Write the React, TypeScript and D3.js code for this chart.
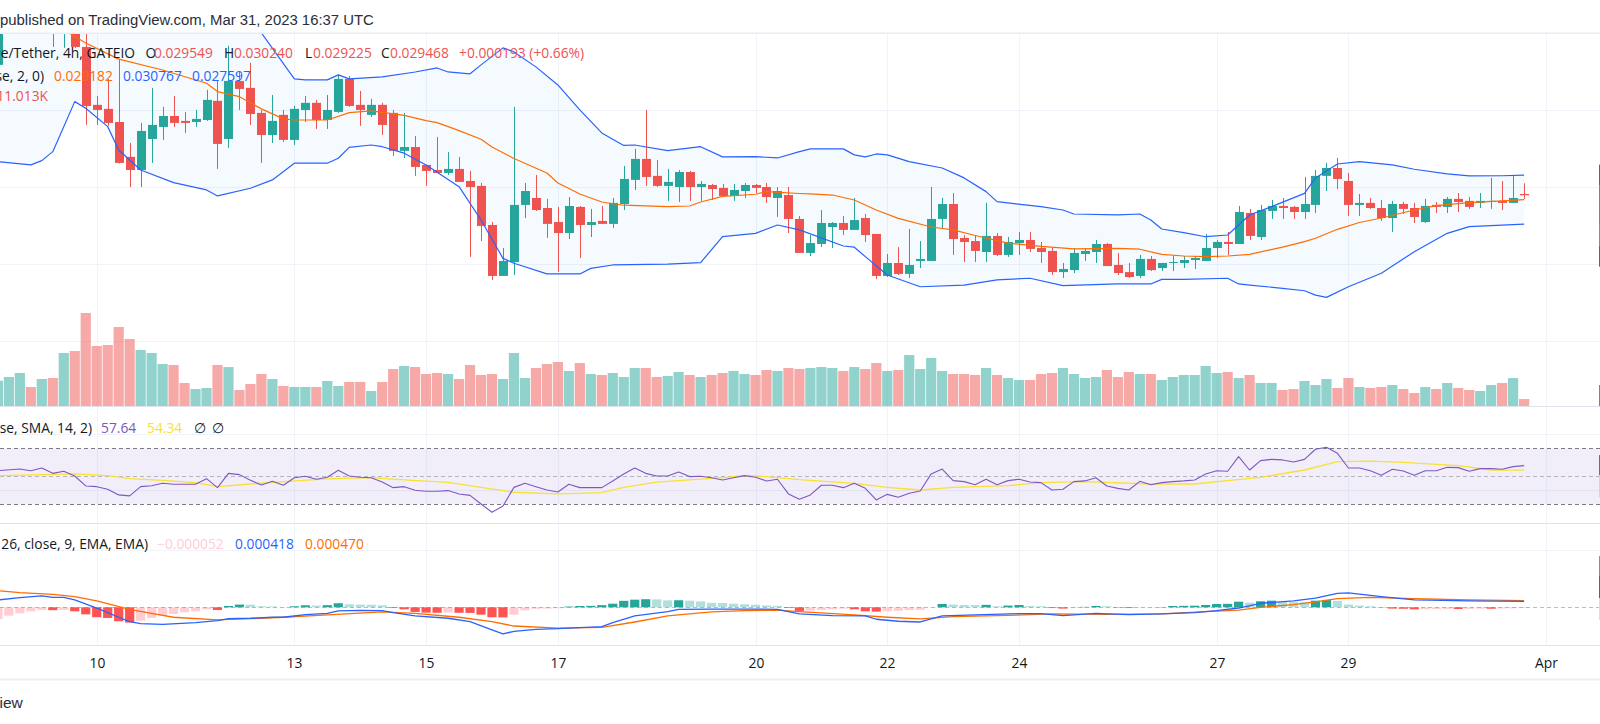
import { useEffect, useRef } from "react";
import * as d3 from "d3";

// 4h candles, first one Mar 8 2023 12:00 UTC
const START = Date.UTC(2023, 2, 8, 12);
const STEP = 4 * 3600 * 1000;

const open = [
  0.03791, 0.04082, 0.0416, 0.04212, 0.04134, 0.0418, 0.04031, 0.04082, 0.03907, 0.03532,
  0.03506, 0.03421, 0.03195, 0.0311, 0.03311, 0.03389, 0.0346, 0.03428, 0.03421, 0.03434,
  0.03558, 0.03311, 0.03687, 0.03642, 0.0348, 0.03337, 0.03467, 0.03305, 0.03499, 0.03545,
  0.03434, 0.03486, 0.037, 0.03532, 0.03467, 0.03532, 0.0348, 0.03234, 0.03259, 0.03143,
  0.0311, 0.03091, 0.03117, 0.03039, 0.03007, 0.02754, 0.02424, 0.02514, 0.02884, 0.02929,
  0.02864, 0.02773, 0.02702, 0.02871, 0.02754, 0.0278, 0.02761, 0.0289, 0.03046, 0.03182,
  0.03072, 0.03007, 0.03, 0.03097, 0.03, 0.03013, 0.02994, 0.02942, 0.02974, 0.03013,
  0.03, 0.02929, 0.02948, 0.02793, 0.02573, 0.02631, 0.02741, 0.02767, 0.02722, 0.02799,
  0.02696, 0.02424, 0.02508, 0.02437, 0.02521, 0.02521, 0.02793, 0.0289, 0.0267, 0.0265,
  0.02579, 0.02683, 0.0256, 0.02637, 0.02657, 0.02605, 0.02586, 0.02449, 0.02462, 0.02566,
  0.02579, 0.02631, 0.02495, 0.02449, 0.02424, 0.02534, 0.02475, 0.02508, 0.02508, 0.02527,
  0.02521, 0.02605, 0.02644, 0.02631, 0.02832, 0.02676, 0.02845, 0.02877, 0.02871, 0.02838,
  0.02884, 0.03072, 0.03123, 0.03039, 0.02884, 0.02897, 0.02864, 0.02799, 0.0289, 0.02864,
  0.02773, 0.02884, 0.02871, 0.02923, 0.0291, 0.02897, 0.02903, 0.0291, 0.02897, 0.029549,
];
const high = [
  0.04147, 0.04199, 0.04238, 0.04251, 0.04212, 0.04212, 0.04147, 0.04134, 0.0405, 0.0359,
  0.037, 0.03823, 0.03285, 0.03415, 0.03642, 0.03519, 0.0359, 0.03486, 0.03499, 0.03629,
  0.03687, 0.03914, 0.03745, 0.03804, 0.03499, 0.03596, 0.03499, 0.03525, 0.0359, 0.03564,
  0.03596, 0.03726, 0.0372, 0.03622, 0.03571, 0.03545, 0.03499, 0.0348, 0.03331, 0.03143,
  0.03324, 0.03227, 0.03195, 0.03104, 0.03026, 0.02773, 0.02605, 0.03519, 0.03026, 0.03078,
  0.02923, 0.02871, 0.02935, 0.02877, 0.02858, 0.02877, 0.02929, 0.03136, 0.03247, 0.03499,
  0.03175, 0.03117, 0.0311, 0.03104, 0.03039, 0.0302, 0.0302, 0.0302, 0.03026, 0.0302,
  0.03026, 0.03, 0.03, 0.02812, 0.02689, 0.02851, 0.02773, 0.02812, 0.02929, 0.02825,
  0.02696, 0.02566, 0.02611, 0.02728, 0.0265, 0.03, 0.02929, 0.02961, 0.02689, 0.02689,
  0.02897, 0.02702, 0.02676, 0.02709, 0.02709, 0.02644, 0.02605, 0.02508, 0.02605, 0.02605,
  0.02657, 0.02637, 0.02573, 0.02508, 0.0256, 0.02553, 0.02508, 0.02553, 0.02553, 0.02553,
  0.02696, 0.02657, 0.02709, 0.02877, 0.02858, 0.02884, 0.02916, 0.02929, 0.02877, 0.03065,
  0.0311, 0.03156, 0.03188, 0.03091, 0.02955, 0.02929, 0.02916, 0.0291, 0.02903, 0.02897,
  0.02923, 0.02903, 0.02935, 0.02961, 0.02935, 0.02961, 0.03059, 0.03039, 0.03078, 0.03024,
];
const low = [
  0.03758, 0.0405, 0.04121, 0.04095, 0.04082, 0.03907, 0.03901, 0.03901, 0.03402, 0.03402,
  0.03396, 0.03152, 0.03, 0.03, 0.03156, 0.03305, 0.03389, 0.0335, 0.03389, 0.03428,
  0.03117, 0.03253, 0.03499, 0.03402, 0.03156, 0.03285, 0.03292, 0.03272, 0.03421, 0.03376,
  0.03376, 0.0348, 0.03519, 0.03396, 0.03454, 0.03337, 0.03201, 0.03188, 0.03072, 0.03007,
  0.03091, 0.03078, 0.03033, 0.02547, 0.0265, 0.02398, 0.02424, 0.0243, 0.02799, 0.02845,
  0.0267, 0.02449, 0.02663, 0.0254, 0.02676, 0.02761, 0.02735, 0.02851, 0.02981, 0.03007,
  0.03, 0.0291, 0.02903, 0.0291, 0.0291, 0.02916, 0.02935, 0.0291, 0.02929, 0.02961,
  0.02897, 0.02806, 0.02702, 0.02573, 0.02553, 0.02611, 0.02605, 0.02689, 0.02722, 0.02644,
  0.02404, 0.02417, 0.0243, 0.02411, 0.02475, 0.02521, 0.02728, 0.0256, 0.02514, 0.02514,
  0.02514, 0.02553, 0.02547, 0.0256, 0.02579, 0.02508, 0.0243, 0.02411, 0.02443, 0.02521,
  0.02508, 0.02488, 0.0243, 0.02411, 0.02411, 0.02456, 0.02456, 0.02456, 0.02475, 0.02469,
  0.02521, 0.0254, 0.0256, 0.02631, 0.02657, 0.02657, 0.02793, 0.02793, 0.02793, 0.02793,
  0.02832, 0.02974, 0.02987, 0.02812, 0.02812, 0.02858, 0.0278, 0.02709, 0.02825, 0.02767,
  0.02767, 0.02832, 0.02832, 0.02838, 0.02858, 0.02864, 0.02858, 0.02851, 0.02897, 0.029225,
];
const close = [
  0.04082, 0.0416, 0.04212, 0.04134, 0.0418, 0.04031, 0.04082, 0.03907, 0.03525, 0.03499,
  0.03415, 0.03156, 0.0311, 0.03363, 0.03402, 0.0346, 0.03415, 0.03415, 0.03441, 0.03564,
  0.03279, 0.03687, 0.03635, 0.03473, 0.03337, 0.03428, 0.03305, 0.03506, 0.03545, 0.03434,
  0.03499, 0.037, 0.03525, 0.03499, 0.03532, 0.03402, 0.03234, 0.03259, 0.0313, 0.03104,
  0.03091, 0.03117, 0.03033, 0.03, 0.02748, 0.02424, 0.02521, 0.02884, 0.02974, 0.02851,
  0.02761, 0.02702, 0.02877, 0.02754, 0.02773, 0.02761, 0.02897, 0.03052, 0.03182, 0.03065,
  0.03007, 0.03033, 0.03097, 0.03, 0.0302, 0.02987, 0.02942, 0.02981, 0.03013, 0.02994,
  0.02935, 0.02974, 0.02793, 0.02573, 0.02637, 0.02767, 0.02767, 0.02722, 0.02786, 0.02689,
  0.02424, 0.02508, 0.02437, 0.02495, 0.02534, 0.02793, 0.0289, 0.02663, 0.02644, 0.02586,
  0.02683, 0.0256, 0.02644, 0.02657, 0.02599, 0.02579, 0.02449, 0.02469, 0.02573, 0.02586,
  0.02631, 0.02488, 0.02443, 0.02417, 0.02534, 0.02462, 0.02508, 0.02514, 0.02527, 0.0254,
  0.02605, 0.02644, 0.02631, 0.02838, 0.02683, 0.02851, 0.02877, 0.02864, 0.02838, 0.0289,
  0.03072, 0.03123, 0.03052, 0.02884, 0.02897, 0.02864, 0.02799, 0.0289, 0.02858, 0.02806,
  0.02877, 0.02871, 0.02923, 0.02903, 0.02871, 0.0291, 0.0291, 0.02897, 0.02929, 0.029468,
];
// volume, thousands
const volume = [
  39.8, 45.6, 51.9, 29.9, 42.5, 44.0, 83.4, 86.5, 146.3, 94.4,
  96.0, 124.3, 105.4, 88.1, 83.4, 66.1, 64.5, 36.2, 26.7, 28.3,
  64.5, 61.3, 25.2, 34.6, 50.3, 42.5, 31.5, 29.9, 29.9, 29.9,
  39.3, 31.5, 37.8, 37.8, 23.6, 37.8, 58.2, 62.9, 61.3, 50.3,
  51.9, 50.3, 42.5, 64.5, 48.8, 50.3, 42.5, 83.4, 44.0, 59.8,
  66.1, 69.2, 55.1, 67.6, 50.3, 48.8, 51.9, 45.6, 59.8, 59.8,
  45.6, 47.2, 53.5, 48.8, 45.6, 48.8, 51.9, 55.1, 50.3, 48.8,
  56.6, 55.1, 59.8, 58.2, 59.8, 61.3, 59.8, 55.1, 61.3, 58.2,
  67.6, 55.1, 56.6, 80.2, 58.2, 75.5, 55.1, 50.3, 50.3, 48.8,
  59.8, 48.8, 44.0, 40.9, 40.9, 50.3, 51.9, 59.8, 50.3, 44.0,
  45.6, 56.6, 45.6, 53.5, 50.3, 50.3, 40.9, 45.6, 48.8, 48.8,
  62.9, 51.9, 53.5, 44.0, 48.8, 36.2, 36.2, 25.2, 26.7, 39.3,
  33.0, 42.5, 28.3, 44.0, 29.9, 28.3, 29.9, 33.0, 26.7, 20.4,
  29.9, 26.7, 36.2, 28.3, 25.2, 23.6, 33.0, 36.2, 44.0, 11.013,
];

// Bollinger bands [candle index, price]
const bbUpper = [
  [0, 0.05314], [4, 0.05184], [8, 0.04795], [12, 0.04471], [16, 0.04277], [20, 0.04147], [22, 0.04069],
  [24, 0.03998], [27, 0.037], [28, 0.03694], [30, 0.03694], [31, 0.03726], [32, 0.037], [35, 0.03713],
  [38, 0.03745], [40, 0.03771], [41, 0.03745], [43, 0.03733], [44, 0.03791], [46, 0.03901], [47, 0.03875],
  [49, 0.03778], [51, 0.03661], [53, 0.03499], [55, 0.0335], [57, 0.03269], [58, 0.03272], [61, 0.03235],
  [64, 0.03261], [66, 0.03195], [69, 0.03197], [71, 0.03188], [73, 0.03229], [74, 0.03247], [77, 0.03247],
  [78, 0.03208], [79, 0.03195], [80, 0.03214], [81, 0.03208], [83, 0.03164], [86, 0.03123], [88, 0.03059],
  [90, 0.0297], [91, 0.02905], [92, 0.02897], [95, 0.02873], [97, 0.02851], [98, 0.02825], [102, 0.02819],
  [104, 0.02825], [105, 0.02786], [106, 0.02728], [108, 0.02704], [110, 0.02678], [112, 0.02689],
  [114, 0.02819], [116, 0.02873], [119, 0.02959], [120, 0.03059], [122, 0.03149], [124, 0.03164],
  [127, 0.03143], [129, 0.03115], [132, 0.03085], [134, 0.03072], [137, 0.03073], [139, 0.030767],
];
const bbBasis = [
  [0, 0.04244], [3, 0.0416], [5, 0.04082], [6, 0.04018], [8, 0.03933], [11, 0.03828], [15, 0.03758],
  [19, 0.03672], [20, 0.03618], [22, 0.03585], [24, 0.03506], [26, 0.03441], [27, 0.03434], [30, 0.03434],
  [32, 0.03482], [34, 0.03493], [37, 0.03464], [39, 0.0343], [40, 0.03417], [42, 0.03365], [44, 0.03309],
  [45, 0.03259], [47, 0.03185], [50, 0.03091], [51, 0.03026], [53, 0.02955], [55, 0.02903], [57, 0.02882],
  [61, 0.02873], [63, 0.02877], [64, 0.02903], [66, 0.02939], [69, 0.02953], [70, 0.0297], [73, 0.02958],
  [74, 0.02955], [76, 0.02948], [78, 0.02916], [80, 0.02851], [82, 0.02797], [85, 0.02741], [87, 0.02722],
  [89, 0.02686], [92, 0.02637], [95, 0.02615], [98, 0.02599], [102, 0.02603], [104, 0.02597], [106, 0.02564],
  [108, 0.02553], [110, 0.02549], [112, 0.02553], [114, 0.02564], [117, 0.02611], [119, 0.02646],
  [120, 0.02668], [122, 0.02726], [124, 0.0277], [126, 0.02799], [129, 0.02851], [131, 0.02879],
  [134, 0.02899], [137, 0.0291], [139, 0.029182],
];
const bbLower = [
  [0, 0.03164], [3, 0.03143], [4, 0.03171], [5, 0.03229], [7, 0.03553], [8, 0.0351], [10, 0.03391],
  [11, 0.0324], [13, 0.0311], [16, 0.03028], [19, 0.02981], [20, 0.02942], [23, 0.02992], [25, 0.03046],
  [27, 0.03154], [30, 0.03154], [31, 0.03186], [32, 0.03257], [34, 0.03272], [35, 0.03261], [37, 0.03219],
  [39, 0.03143], [42, 0.03002], [44, 0.02786], [46, 0.02538], [47, 0.02506], [50, 0.02437], [53, 0.02437],
  [54, 0.02473], [56, 0.02495], [61, 0.02501], [64, 0.0251], [66, 0.02678], [69, 0.027], [71, 0.02754],
  [73, 0.02722], [77, 0.02618], [78, 0.0261], [79, 0.02549], [81, 0.0243], [84, 0.02354], [88, 0.02365],
  [91, 0.02398], [94, 0.02409], [97, 0.02361], [102, 0.02372], [105, 0.02372], [106, 0.02402],
  [108, 0.02402], [112, 0.02409], [113, 0.02372], [114, 0.02365], [117, 0.02344], [119, 0.02328],
  [120, 0.023], [121, 0.02285], [123, 0.02354], [126, 0.02441], [129, 0.02581], [132, 0.027],
  [134, 0.02743], [139, 0.027597],
];

// RSI 14 and its SMA 14 [candle index, value]
const rsi = [
  [0, 54.0], [2, 55.2], [3, 54.0], [4, 55.9], [5, 52.1], [6, 53.6], [7, 50.2], [8, 43.1], [9, 42.6], [10, 40.7],
  [11, 36.7], [12, 36.0], [13, 42.6], [14, 43.3], [15, 45.0], [16, 44.3], [18, 44.3], [19, 48.3], [20, 41.9],
  [21, 52.1], [22, 51.2], [23, 47.1], [24, 43.8], [25, 46.4], [26, 43.6], [27, 49.0], [28, 50.0], [29, 47.9],
  [30, 49.3], [31, 54.3], [32, 50.2], [33, 49.3], [34, 49.0], [35, 45.9], [36, 41.9], [37, 42.6], [38, 40.0],
  [39, 39.3], [40, 39.3], [41, 39.8], [42, 37.4], [43, 36.4], [44, 30.2], [45, 24.3], [46, 28.8], [47, 42.1],
  [48, 45.0], [49, 42.6], [50, 40.2], [51, 38.8], [52, 44.3], [53, 41.9], [54, 41.9], [55, 41.9], [56, 46.7],
  [57, 51.7], [58, 55.9], [59, 52.1], [60, 50.2], [61, 50.2], [62, 53.1], [63, 49.8], [64, 50.0], [65, 49.0],
  [66, 47.4], [67, 49.0], [68, 50.5], [69, 49.3], [70, 46.7], [71, 47.9], [72, 37.4], [73, 33.6], [74, 36.7],
  [75, 43.6], [76, 43.6], [77, 41.9], [78, 45.0], [79, 41.4], [80, 33.1], [81, 37.1], [82, 35.0], [83, 37.9],
  [84, 39.5], [85, 51.7], [86, 55.2], [87, 46.9], [88, 46.2], [89, 44.0], [90, 47.9], [91, 44.0], [92, 46.9],
  [93, 47.9], [94, 45.9], [95, 45.5], [96, 40.2], [97, 40.7], [98, 46.2], [99, 46.7], [100, 49.0], [101, 43.1],
  [102, 41.4], [103, 40.2], [104, 46.4], [105, 44.0], [106, 45.5], [107, 46.2], [108, 46.7], [109, 47.4],
  [110, 51.7], [111, 54.0], [112, 53.6], [113, 64.0], [114, 54.5], [115, 61.2], [116, 62.1], [117, 61.7],
  [118, 60.2], [119, 62.1], [120, 69.3], [121, 70.7], [122, 66.4], [123, 55.9], [124, 55.9], [125, 54.0],
  [126, 50.7], [127, 55.0], [128, 53.8], [129, 50.7], [130, 54.0], [131, 54.0], [132, 56.4], [133, 56.2],
  [134, 53.6], [135, 55.5], [136, 55.5], [137, 55.0], [138, 56.9], [139, 57.64],
];
const rsiMa = [
  [0, 50.5], [7, 51.7], [10, 50.5], [12, 48.3], [15, 47.1], [18, 45.5], [20, 42.6], [23, 44.5], [26, 46.2],
  [30, 48.1], [34, 49.0], [37, 47.4], [41, 45.7], [44, 42.1], [47, 38.6], [51, 37.4], [55, 38.3], [57, 42.1],
  [60, 45.9], [63, 47.4], [66, 49.0], [68, 50.5], [70, 49.8], [73, 47.6], [78, 45.0], [81, 42.1], [84, 40.2],
  [87, 42.1], [92, 43.3], [95, 45.5], [99, 46.2], [105, 44.5], [109, 44.5], [112, 46.9], [115, 49.3],
  [119, 54.5], [122, 60.5], [125, 60.9], [128, 60.0], [133, 57.6], [136, 54.5], [139, 54.34],
];

// MACD 12 26 9 [candle index, value]
const macdLine = [
  [0, 0.00051], [2, 0.00067], [4, 0.00079], [5, 0.00069], [6, 0.00069], [7, 0.00051], [9, -0.00005],
  [10, -0.00037], [11, -0.00069], [12, -0.001], [13, -0.00114], [15, -0.00118], [18, -0.00106],
  [20, -0.00092], [21, -0.00079], [23, -0.00076], [25, -0.00069], [26, -0.00069], [28, -0.00051],
  [30, -0.00042], [31, -0.00025], [33, -0.00022], [35, -0.00023], [36, -0.00037], [38, -0.0006],
  [41, -0.00076], [43, -0.001], [45, -0.00157], [46, -0.00185], [47, -0.00167], [49, -0.00153],
  [51, -0.00148], [55, -0.00134], [56, -0.00106], [58, -0.0006], [61, -0.0003], [62, -0.00014],
  [65, -0.00012], [69, -0.00012], [71, -0.00014], [72, -0.0003], [73, -0.00046], [76, -0.00058],
  [79, -0.0006], [80, -0.00083], [82, -0.00097], [84, -0.00102], [86, -0.0006], [89, -0.00053],
  [93, -0.00044], [95, -0.00044], [97, -0.00058], [100, -0.00042], [103, -0.00051], [106, -0.00046],
  [109, -0.00037], [111, -0.00023], [113, -0.00005], [115, 0.00028], [118, 0.00044], [120, 0.00063],
  [122, 0.00097], [123, 0.001], [126, 0.00074], [129, 0.00051], [134, 0.00044], [139, 0.000418],
];
const macdSignal = [
  [0, 0.00116], [2, 0.00102], [5, 0.0009], [7, 0.00074], [9, 0.00045], [12, -0.00015], [14, -0.00042],
  [16, -0.00069], [20, -0.00088], [23, -0.00079], [26, -0.00069], [30, -0.00053], [35, -0.00032],
  [38, -0.00042], [42, -0.00069], [45, -0.001], [47, -0.0013], [51, -0.00144], [55, -0.00139],
  [58, -0.00102], [61, -0.0006], [65, -0.00032], [68, -0.00023], [71, -0.00019], [73, -0.0003],
  [78, -0.00053], [81, -0.00069], [84, -0.00081], [87, -0.00065], [92, -0.00056], [96, -0.00046],
  [101, -0.00049], [106, -0.00046], [110, -0.0003], [113, -0.00019], [115, 0.0], [118, 0.00019],
  [120, 0.00037], [122, 0.0006], [125, 0.00069], [129, 0.0006], [134, 0.00051], [139, 0.00047],
];
const macdHist = [
  -0.00081, -0.00058, -0.00042, -0.00028, -0.00019, -0.0002, -0.00018, -0.00028, -0.00049, -0.00069,
  -0.00074, -0.00097, -0.00106, -0.00093, -0.00074, -0.00056, -0.00046, -0.00035, -0.00028, -0.00014,
  -0.00019, 0.00009, 0.00019, 0.00018, 0.00007, 0.00006, 0.00002, 0.00007, 0.00014, 0.00012,
  0.00015, 0.00028, 0.00021, 0.00019, 0.00018, 0.00014, -0.00005, -0.00014, -0.00032, -0.00037,
  -0.00038, -0.00036, -0.00038, -0.00039, -0.00051, -0.00069, -0.0007, -0.00051, -0.00021, -0.0001,
  -0.00009, -0.00007, 0.00005, 0.00009, 0.0001, 0.00015, 0.00025, 0.00045, 0.00053, 0.00056,
  0.00055, 0.00048, 0.00049, 0.00046, 0.00041, 0.00031, 0.0003, 0.00025, 0.00021, 0.00018,
  0.00013, 0.0001, -0.00005, -0.00025, -0.00023, -0.00019, -0.00014, -0.00009, -0.00014, -0.00028,
  -0.0003, -0.00027, -0.00025, -0.0002, -0.00018, -0.00002, 0.00023, 0.00019, 0.00016, 0.00015,
  0.00017, 0.00007, 0.00012, 0.00016, 0.00009, 0.00007, -0.00005, -0.00009, -0.00004, 0.00003,
  0.00009, 0.00007, -0.00003, -0.00005, -0.00003, -0.00002, 0.00002, 0.00009, 0.0001, 0.00011,
  0.00016, 0.00023, 0.00024, 0.00039, 0.00032, 0.00042, 0.00046, 0.00037, 0.00036, 0.00035,
  0.00046, 0.00051, 0.00044, 0.00019, 0.00012, 0.00007, -0.00002, -0.00009, -0.0001, -0.00014,
  -0.00013, -0.00012, -0.00011, -0.00012, -0.00011, -0.00009, -0.0001, -0.00008, -0.00007, -0.000052,
];

const tickDates = [
  "2023-03-10", "2023-03-13", "2023-03-15", "2023-03-17", "2023-03-20",
  "2023-03-22", "2023-03-24", "2023-03-27", "2023-03-29", "2023-04-01",
];
const tickLabels = ["10", "13", "15", "17", "20", "22", "24", "27", "29", "Apr"];

const UP = "#26a69a";
const DOWN = "#ef5350";
const GRID = "#f0f3fa";
const TXT = "#131722";
const FONT = "'Open Sans', sans-serif";
const FS = 13.8;

export default function App() {
  const ref = useRef<SVGSVGElement>(null);

  useEffect(() => {
    document.body.style.margin = "0";
    const svg = d3.select(ref.current);
    svg.selectAll("*").remove();

    const W = 1600;
    const t = (i: number) => new Date(START + i * STEP);
    const x = d3
      .scaleUtc()
      .domain([t(0), t(139)])
      .range([-2.1, 1524.1]);
    const cx = (i: number) => x(t(i));

    const yP = d3.scaleLinear().domain([0.025, 0.035]).range([264.2, 109.8]);
    const yV = d3.scaleLinear().domain([0, 146.3]).range([406, 313]);
    const yR = d3.scaleLinear().domain([30, 70]).range([504.3, 448.3]);
    const yM = d3.scaleLinear().domain([0, 0.004]).range([607.3, 549.7]);

    const defs = svg.append("defs");
    const clip = (id: string, y0: number, y1: number) =>
      defs.append("clipPath").attr("id", id).append("rect")
        .attr("x", 0).attr("y", y0).attr("width", W).attr("height", y1 - y0);
    clip("cMain", 34, 406);
    clip("cRsi", 407, 523);
    clip("cMacd", 524, 645);

    svg.append("rect").attr("width", W).attr("height", 724).attr("fill", "#fff");

    // vertical grid through all panes
    const tickX = tickDates.map((d) => Math.round(x(new Date(d + "T00:00:00Z"))) + 0.5);
    svg.append("g").selectAll("line").data(tickX).join("line")
      .attr("x1", (d) => d).attr("x2", (d) => d)
      .attr("y1", 34).attr("y2", 645)
      .attr("stroke", GRID);

    // ---------- main pane ----------
    const main = svg.append("g").attr("clip-path", "url(#cMain)");
    main.selectAll("line.h").data([0.02, 0.025, 0.03, 0.035]).join("line")
      .attr("class", "h")
      .attr("x1", 0).attr("x2", W)
      .attr("y1", (d) => Math.round(yP(d)) + 0.5).attr("y2", (d) => Math.round(yP(d)) + 0.5)
      .attr("stroke", GRID);

    const bandLine = d3.line<number[]>().x((d) => cx(d[0])).y((d) => yP(d[1]));
    const fillPts = [...bbUpper, ...bbLower.slice().reverse()];
    main.append("path")
      .attr("d", bandLine(fillPts) + "Z")
      .attr("fill", "rgba(33,150,243,0.05)");

    const idx = d3.range(open.length);
    main.append("g").selectAll("rect").data(idx).join("rect")
      .attr("x", (i) => cx(i) - 5.1)
      .attr("width", 10.2)
      .attr("y", (i) => yV(volume[i]))
      .attr("height", (i) => yV(0) - yV(volume[i]))
      .attr("fill", (i) => (close[i] >= open[i] ? "rgba(38,166,154,0.5)" : "rgba(239,83,80,0.5)"));

    const candles = main.append("g");
    candles.selectAll("line").data(idx).join("line")
      .attr("x1", (i) => Math.round(cx(i)) + 0.5).attr("x2", (i) => Math.round(cx(i)) + 0.5)
      .attr("y1", (i) => yP(high[i])).attr("y2", (i) => yP(low[i]))
      .attr("stroke", (i) => (close[i] >= open[i] ? UP : DOWN));
    candles.selectAll("rect").data(idx).join("rect")
      .attr("x", (i) => Math.round(cx(i)) + 0.5 - 4.5)
      .attr("width", 9)
      .attr("y", (i) => yP(Math.max(open[i], close[i])))
      .attr("height", (i) => Math.max(1, Math.abs(yP(open[i]) - yP(close[i]))))
      .attr("fill", (i) => (close[i] >= open[i] ? UP : DOWN));

    const drawLine = (g: any, pts: number[][], y: any, color: string, w: number) =>
      g.append("path")
        .attr("d", d3.line<number[]>().x((d) => cx(d[0])).y((d) => y(d[1]))(pts))
        .attr("fill", "none").attr("stroke", color).attr("stroke-width", w)
        .attr("stroke-linejoin", "round");
    drawLine(main, bbUpper, yP, "#2962ff", 1.2);
    drawLine(main, bbLower, yP, "#2962ff", 1.2);
    drawLine(main, bbBasis, yP, "#ff6d00", 1.2);

    // ---------- RSI pane ----------
    const rp = svg.append("g").attr("clip-path", "url(#cRsi)");
    rp.selectAll("line.h").data([40, 80]).join("line")
      .attr("class", "h")
      .attr("x1", 0).attr("x2", W)
      .attr("y1", (d) => Math.round(yR(d)) + 0.5).attr("y2", (d) => Math.round(yR(d)) + 0.5)
      .attr("stroke", GRID);
    rp.append("rect")
      .attr("x", 0).attr("width", W)
      .attr("y", yR(70)).attr("height", yR(30) - yR(70))
      .attr("fill", "rgba(126,87,194,0.1)");
    [70, 30].forEach((v) =>
      rp.append("line").attr("x1", 0).attr("x2", W)
        .attr("y1", Math.round(yR(v)) + 0.5).attr("y2", Math.round(yR(v)) + 0.5)
        .attr("stroke", "#787b86").attr("stroke-dasharray", "4,3"));
    rp.append("line").attr("x1", 0).attr("x2", W)
      .attr("y1", Math.round(yR(50)) + 0.5).attr("y2", Math.round(yR(50)) + 0.5)
      .attr("stroke", "rgba(120,123,134,0.5)").attr("stroke-dasharray", "4,3");
    drawLine(rp, rsiMa, yR, "#f7e135", 1.3);
    drawLine(rp, rsi, yR, "#7e57c2", 1.1);

    // ---------- MACD pane ----------
    const mp = svg.append("g").attr("clip-path", "url(#cMacd)");
    mp.append("line").attr("x1", 0).attr("x2", W)
      .attr("y1", Math.round(yM(0.004)) + 0.5).attr("y2", Math.round(yM(0.004)) + 0.5)
      .attr("stroke", GRID);
    const histColor = (i: number) => {
      const v = macdHist[i];
      const prev = i > 0 ? macdHist[i - 1] : v - 1e-9;
      if (v >= 0) return v >= prev ? "#26a69a" : "#b2dfdb";
      return v < prev ? "#ff5252" : "#ffcdd2";
    };
    mp.append("g").selectAll("rect").data(idx).join("rect")
      .attr("x", (i) => cx(i) - 4.6)
      .attr("width", 9.2)
      .attr("y", (i) => Math.min(yM(0), yM(macdHist[i])))
      .attr("height", (i) => Math.abs(yM(macdHist[i]) - yM(0)))
      .attr("fill", histColor);
    mp.append("line").attr("x1", 0).attr("x2", W)
      .attr("y1", Math.round(yM(0)) + 0.5).attr("y2", Math.round(yM(0)) + 0.5)
      .attr("stroke", "rgba(120,123,134,0.5)").attr("stroke-dasharray", "4,3");
    drawLine(mp, macdSignal, yM, "#ff6d00", 1.3);
    drawLine(mp, macdLine, yM, "#2962ff", 1.3);

    // pane borders
    [406.5, 523.5, 645.5].forEach((y) =>
      svg.append("line").attr("x1", 0).attr("x2", W).attr("y1", y).attr("y2", y)
        .attr("stroke", "#e0e3eb"));
    svg.append("rect").attr("x", 0).attr("y", 678.5).attr("width", W).attr("height", 2)
      .attr("fill", "#eceef3");

    // edges of the price-scale tags, just past the right border
    const n = open.length - 1;
    const tag = (y0: number, h: number, c: string) =>
      svg.append("rect").attr("x", 1599).attr("y", y0).attr("width", 1).attr("height", h).attr("fill", c);
    const top = yP(bbUpper[bbUpper.length - 1][1]) - 10.5;
    tag(top, 21, "#2962ff");
    tag(top + 21, 40, DOWN);
    tag(top + 61, 20, "#ff6d00");
    tag(top + 81, 21, "#2962ff");
    tag(yV(0) - 21, 21, DOWN);
    const rTop = yR(rsi[rsi.length - 1][1]) - 10.5;
    tag(rTop, 20, "#7e57c2");
    tag(rTop + 20, 22, "#f7e135");
    const mBot = yM(macdHist[n]) + 12;
    tag(mBot - 22, 22, "#ffcdd2");
    tag(mBot - 44, 22, "#2962ff");
    tag(mBot - 64, 20, "#ff6d00");

    // time axis
    svg.append("g").selectAll("text").data(tickLabels).join("text")
      .attr("x", (_, k) => tickX[k])
      .attr("y", 667.5)
      .attr("text-anchor", "middle")
      .attr("font-family", FONT).attr("font-size", FS)
      .attr("fill", TXT)
      .text((d) => d);

    // header
    svg.append("rect").attr("width", W).attr("height", 33).attr("fill", "#fff");
    svg.append("rect").attr("y", 32.5).attr("width", W).attr("height", 1.5).attr("fill", "#e9ecf2");
    const txt = (px: number, py: number, s: string, fill: string, opts: any = {}) =>
      svg.append("text")
        .attr("x", px).attr("y", py)
        .attr("text-anchor", opts.anchor || "start")
        .attr("font-family", opts.family || FONT)
        .attr("font-size", opts.size || FS)
        .attr("fill", fill)
        .text(s);
    txt(0, 25, "published on TradingView.com, Mar 31, 2023 16:37 UTC", "#2a2e39",
      { family: "'Liberation Sans', Arial, sans-serif", size: 14.9 });

    // legends
    txt(135, 57.7, "e/Tether, 4h, GATEIO", TXT, { anchor: "end" });
    txt(145.5, 57.7, "O", TXT);
    txt(154, 57.7, "0.029549", DOWN);
    txt(224, 57.7, "H", TXT);
    txt(234, 57.7, "0.030240", DOWN);
    txt(305, 57.7, "L", TXT);
    txt(313, 57.7, "0.029225", DOWN);
    txt(381, 57.7, "C", TXT);
    txt(390, 57.7, "0.029468", DOWN);
    txt(459, 57.7, "+0.000193 (+0.66%)", DOWN);

    txt(44, 80.7, "BB (20, SMA, close, 2, 0)", TXT, { anchor: "end" });
    txt(54, 80.7, "0.029182", "#ff6d00");
    txt(123, 80.7, "0.030767", "#2962ff");
    txt(192, 80.7, "0.027597", "#2962ff");

    txt(48, 101, "11.013K", DOWN, { anchor: "end" });

    txt(92, 432.7, "RSI (14, close, SMA, 14, 2)", TXT, { anchor: "end" });
    txt(101, 432.7, "57.64", "#7e57c2");
    txt(147, 432.7, "54.34", "#f7e135");
    txt(194, 432.7, "\u2205", TXT);
    txt(212, 432.7, "\u2205", TXT);

    txt(148, 549, "MACD (12, 26, close, 9, EMA, EMA)", TXT, { anchor: "end" });
    txt(157, 549, "\u22120.000052", "#ffcdd2");
    txt(235, 549, "0.000418", "#2962ff");
    txt(305, 549, "0.000470", "#ff6d00");

    txt(22.7, 708, "TradingView", "#2a2e39",
      { anchor: "end", family: "'Liberation Sans', Arial, sans-serif", size: 15.5 });
  }, []);

  return (
    <svg
      ref={ref}
      width={1600}
      height={724}
      style={{ display: "block", position: "absolute", left: 0, top: 0 }}
    />
  );
}
